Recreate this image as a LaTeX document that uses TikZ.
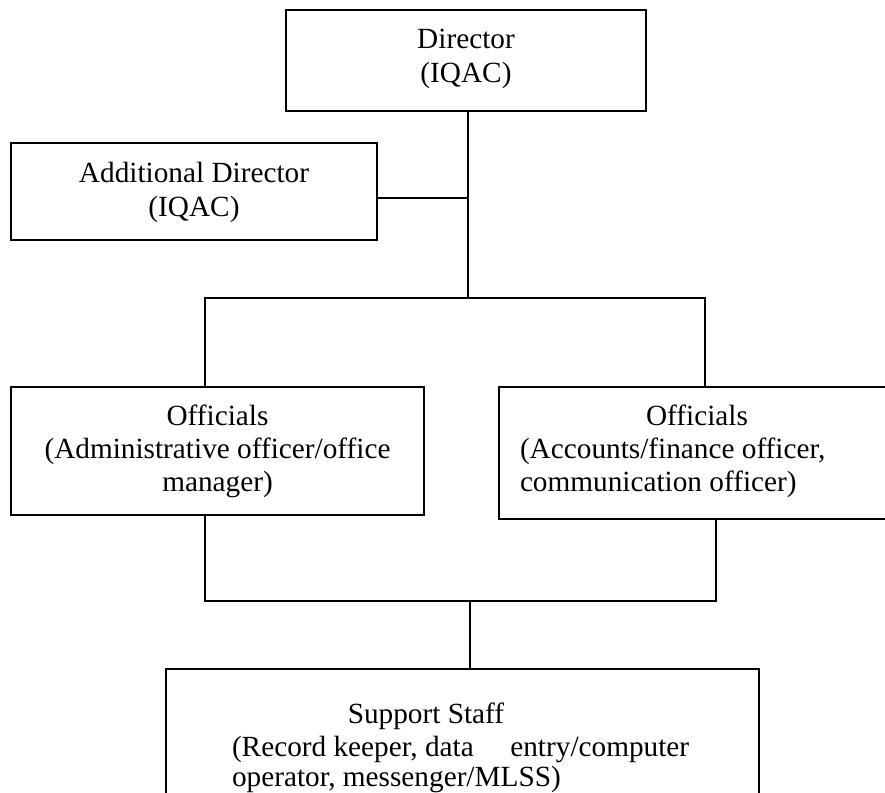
\documentclass[tikz,border=0pt]{standalone}
\usepackage{fontspec}
\setmainfont{Liberation Serif}
\begin{document}
\begin{tikzpicture}[x=0.41pt,y=-0.41pt,
  box/.style={draw, line width=0.8pt, inner sep=0pt, outer sep=0pt},
  txt/.style={inner sep=0pt, outer sep=0pt, anchor=base, font=\fontsize{12}{14}\selectfont},
  txtl/.style={txt, anchor=base west},
  conn/.style={line width=0.8pt}]
\useasboundingbox (0,0) rectangle (885,793);
\clip (0,0) rectangle (885,793);
% boxes
\node[box, minimum width={360*0.41pt}, minimum height={101*0.41pt}] (dir) at (466,60.5) {};
\node[box, minimum width={366*0.41pt}, minimum height={97*0.41pt}] (add) at (194,191.5) {};
\node[box, minimum width={413*0.41pt}, minimum height={128*0.41pt}] (offl) at (217.5,451) {};
\node[box, minimum width={400*0.41pt}, minimum height={132*0.41pt}] (offr) at (699,453) {};
\node[box, minimum width={593*0.41pt}, minimum height={140*0.41pt}] (sup) at (462.5,739) {};
% texts
\node[txt] (dir1) at (466,48) {Director};
\node[txt] (dir2) at (466,82) {(IQAC)};
\node[txt] (add1) at (194,182) {Additional Director};
\node[txt] (add2) at (194,216) {(IQAC)};
\node[txt] (offl1) at (217.5,425) {Officials};
\node[txt] (offl2) at (217.5,458) {(Administrative officer/office};
\node[txt] (offl3) at (217.5,491) {manager)};
\node[txt] (offr1) at (697,425) {Officials};
\node[txtl] (offr2) at (520,458) {(Accounts/finance officer,};
\node[txtl] (offr3) at (520,491) {communication officer)};
\node[txt] (sup1) at (426,723) {Support Staff};
\node[txtl] (sup2) at (232,756) {(Record keeper, data\hspace*{15pt}entry/computer};
\node[txtl] (sup3) at (232,786) {operator, messenger/MLSS)};
% junction points
\coordinate (j0) at (468,198);
\coordinate (j1) at (468,298);
\coordinate (jl) at (205,298);
\coordinate (jr) at (705,298);
\coordinate (bl) at (205,601);
\coordinate (br) at (716,601);
\coordinate (bm) at (470,601);
% connectors
\draw[conn] (dir.south -| j1) -- (j1);
\draw[conn] (add.east |- j0) -- (j0);
\draw[conn] (offl.north -| jl) -- (jl) -- (jr) -- (offr.north -| jr);
\draw[conn] (offl.south -| bl) -- (bl) -- (br) -- (offr.south -| br);
\draw[conn] (bm) -- (sup.north -| bm);
\end{tikzpicture}
\end{document}
